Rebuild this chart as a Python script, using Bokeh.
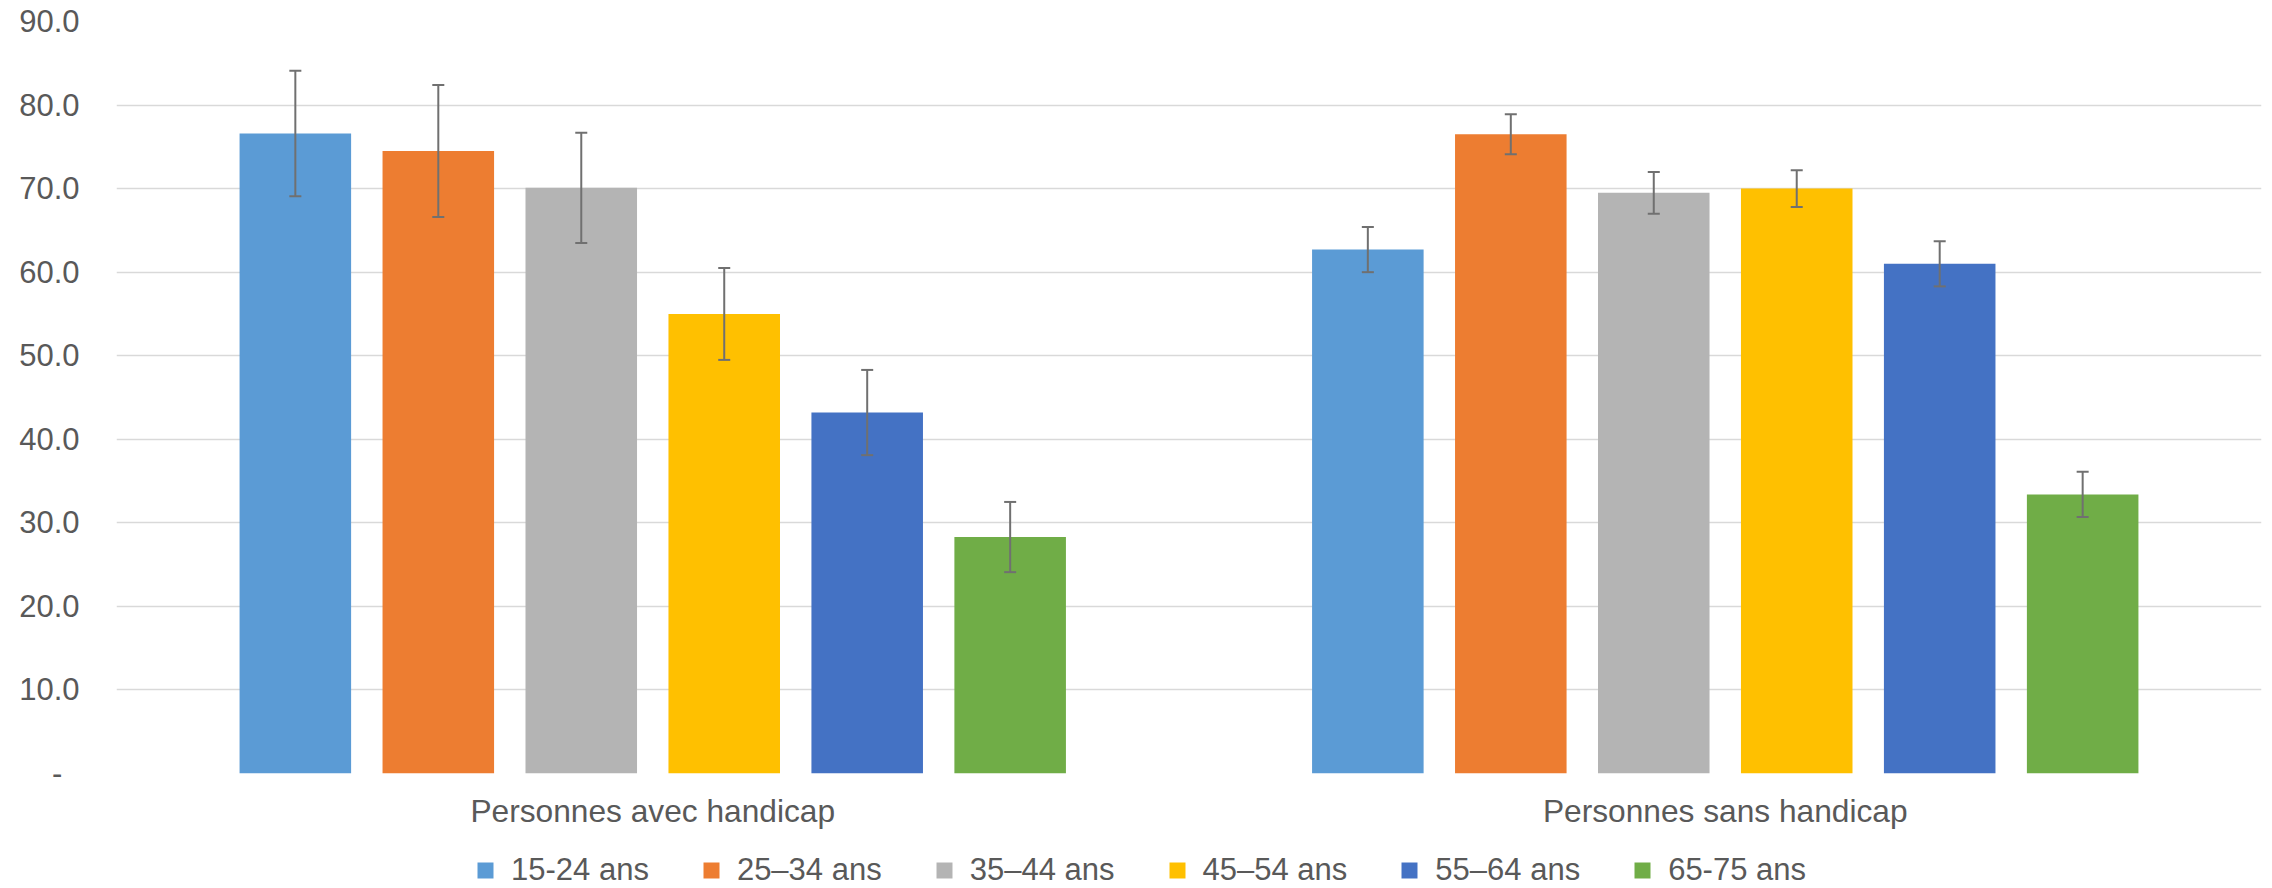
from bokeh.plotting import figure
from bokeh.layouts import column
from bokeh.models import (ColumnDataSource, FactorRange, Range1d, FixedTicker,
                          Legend, LegendItem)
from bokeh.transform import dodge
from bokeh.embed import file_html
from bokeh.resources import INLINE

# ---------------- data ----------------
categories = ["Personnes avec handicap", "Personnes sans handicap"]
age_groups = ["15-24 ans", "25–34 ans", "35–44 ans", "45–54 ans", "55–64 ans", "65-75 ans"]
values_avec = [76.6, 74.5, 70.1, 55.0, 43.2, 28.3]
values_sans = [62.7, 76.5, 69.5, 70.0, 61.0, 33.4]
err_avec = [7.5, 7.9, 6.6, 5.5, 5.1, 4.2]
err_sans = [2.7, 2.4, 2.5, 2.2, 2.7, 2.7]
y_ticks = [0, 10, 20, 30, 40, 50, 60, 70, 80, 90]
y_tick_labels = ["-\u00a0\u00a0", "10.0", "20.0", "30.0", "40.0", "50.0", "60.0", "70.0", "80.0", "90.0"]

# ---------------- styles ----------------
colors = ["#5B9BD5", "#ED7D31", "#B4B4B4", "#FFC000", "#4472C4", "#70AD47"]
FONT = "Liberation Sans"
TXT = "#595959"
GRID = "#D9D9D9"
ERR = "#707070"
pitch = 0.1333
bar_w = 0.104
cap = 0.0056

data = {"cat": categories}
for i in range(len(age_groups)):
    data[f"v{i}"] = [values_avec[i], values_sans[i]]
    data[f"hi{i}"] = [values_avec[i] + err_avec[i], values_sans[i] + err_sans[i]]
    data[f"lo{i}"] = [values_avec[i] - err_avec[i], values_sans[i] - err_sans[i]]
src = ColumnDataSource(data)

W = 2272
H_MAIN = 845
H_LEG = 43

p = figure(x_range=FactorRange(factors=categories, range_padding=0),
           y_range=Range1d(0, 90),
           width=W, height=H_MAIN,
           output_backend="svg", toolbar_location=None,
           min_border_left=116, min_border_right=11,
           min_border_top=21, min_border_bottom=72)
p.outline_line_color = None
p.background_fill_color = "white"
p.border_fill_color = "white"

for i, age in enumerate(age_groups):
    off = (i - 2.5) * pitch
    p.vbar(x=dodge("cat", off, range=p.x_range), top=f"v{i}", width=bar_w,
           source=src, fill_color=colors[i], line_color=None)
    p.segment(x0=dodge("cat", off, range=p.x_range), y0=f"lo{i}",
              x1=dodge("cat", off, range=p.x_range), y1=f"hi{i}",
              source=src, line_color=ERR, line_width=2)
    for col in (f"lo{i}", f"hi{i}"):
        p.segment(x0=dodge("cat", off - cap, range=p.x_range), y0=col,
                  x1=dodge("cat", off + cap, range=p.x_range), y1=col,
                  source=src, line_color=ERR, line_width=2)

# y axis
p.yaxis.ticker = FixedTicker(ticks=y_ticks)
p.yaxis.major_label_overrides = {t: l for t, l in zip(y_ticks, y_tick_labels)}
p.yaxis.axis_line_color = None
p.yaxis.major_tick_line_color = None
p.yaxis.minor_tick_line_color = None
p.yaxis.major_tick_out = 0
p.yaxis.major_label_standoff = 37
p.yaxis.major_label_text_font = FONT
p.yaxis.major_label_text_font_size = "31px"
p.yaxis.major_label_text_color = TXT

# x axis
p.xaxis.axis_line_color = None
p.xaxis.major_tick_line_color = None
p.xaxis.minor_tick_line_color = None
p.xaxis.major_tick_out = 0
p.xaxis.major_label_standoff = 19
p.xaxis.major_label_text_font = FONT
p.xaxis.major_label_text_font_size = "31.7px"
p.xaxis.major_label_text_color = TXT

# grid
p.xgrid.grid_line_color = None
p.ygrid.ticker = FixedTicker(ticks=y_ticks)
p.ygrid.grid_line_color = GRID
p.ygrid.grid_line_width = 1.3

# ---------------- legend strip ----------------
lf = figure(width=W, height=H_LEG, x_range=Range1d(0, 1), y_range=Range1d(0, 1),
            output_backend="svg", toolbar_location=None,
            x_axis_type=None, y_axis_type=None,
            min_border=0, min_border_left=0, min_border_right=0,
            min_border_top=0, min_border_bottom=0)
lf.outline_line_color = None
lf.xgrid.grid_line_color = None
lf.ygrid.grid_line_color = None
lf.background_fill_color = "white"
lf.border_fill_color = "white"

# legend proxies: one off-range (invisible) bar per series, only used for the swatch
legend_src = ColumnDataSource(dict(x=[-10.0], top=[-10.0]))
items = []
for i, age in enumerate(age_groups):
    r = lf.vbar(x="x", top="top", width=0.1, source=legend_src,
                fill_color=colors[i], line_color=None)
    items.append(LegendItem(label=age, renderers=[r]))

legend = Legend(items=items, orientation="horizontal",
                location=(359, 0),
                glyph_width=20, glyph_height=20,
                label_standoff=16, spacing=52, padding=0, margin=0,
                label_text_font=FONT, label_text_font_size="31px",
                label_text_color=TXT,
                border_line_color=None, background_fill_alpha=0)
lf.add_layout(legend)

layout = column(p, lf, spacing=0)
open("out.html", "w").write(file_html(layout, INLINE))
